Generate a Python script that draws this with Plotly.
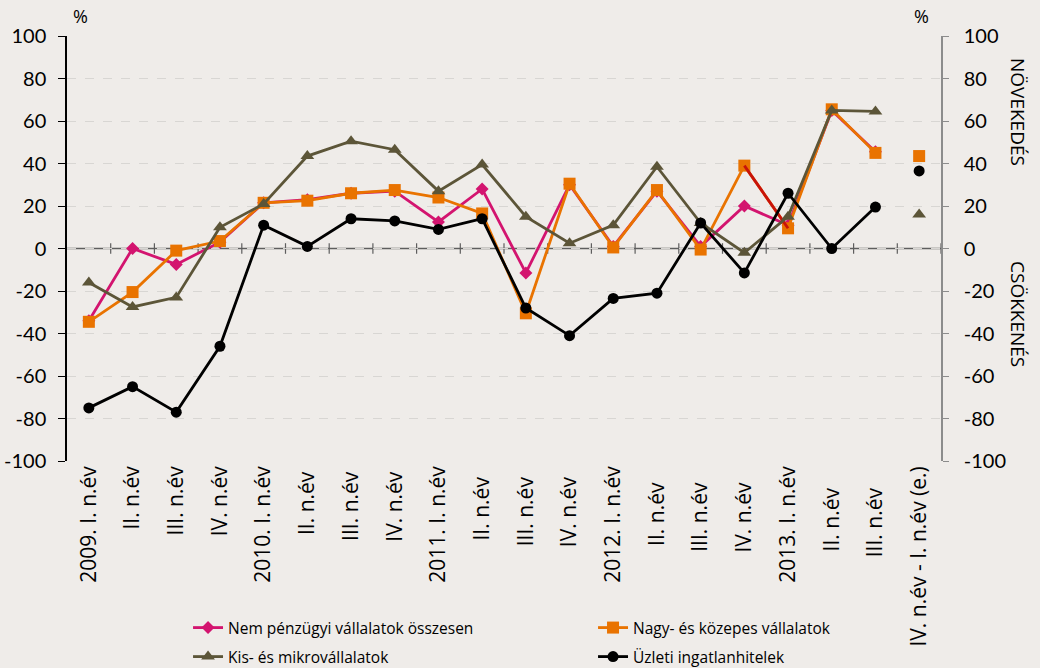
import plotly.graph_objects as go

categories = [
    "2009. I. n.év", "II. n.év", "III. n.év", "IV. n.év",
    "2010. I. n.év", "II. n.év ", "III. n.év ", "IV. n.év ",
    "2011. I. n.év", "II. n.év  ", "III. n.év  ", "IV. n.év  ",
    "2012. I. n.év", "II. n.év   ", "III. n.év   ", "IV. n.év   ",
    "2013. I. n.év", "II. n.év    ", "III. n.év    ",
    "IV. n.év - I. n.év (e.)",
]
quarters = categories[:19]
forecast_cat = categories[19:]

nem_penzugyi = [-34, 0, -7.5, 3, 21.5, 23, 26, 27, 12.5, 28, -11.5, 30, 1, 27, 1, 20, 11, 65, 45.5]
nagy_kozepes = [-34.5, -20.5, -1, 3.5, 21.5, 22.5, 26, 27.5, 24, 16.5, -30.5, 30.5, 0.5, 27.5, -0.5, 39, 9.5, 65.5, 45]
kis_mikro = [-16, -27.5, -23, 10, 21, 43.5, 50.5, 46.5, 27, 39.5, 15, 2.5, 11, 38.5, 12, -2, 15, 65, 64.5]
uzleti = [-75, -65, -77, -46, 11, 1, 14, 13, 9, 14, -28, -41, -23.5, -21, 12, -11.5, 26, 0, 19.5]

nagy_kozepes_forecast = [43.5]
kis_mikro_forecast = [16]
uzleti_forecast = [36.5]

names = ["Nem pénzügyi vállalatok összesen", "Nagy- és közepes vállalatok",
         "Kis- és mikrovállalatok", "Üzleti ingatlanhitelek"]
y_ticks = [-100, -80, -60, -40, -20, 0, 20, 40, 60, 80, 100]
y_ticktext = [str(v) for v in y_ticks]

MAGENTA = "#D3146F"
ORANGE = "#E97300"
OLIVE = "#5C5538"
BLACK = "#000000"
BG = "#EFECE9"

fig = go.Figure()
fig.add_trace(go.Scatter(x=quarters, y=nem_penzugyi, name=names[0], mode="lines+markers",
                         legend="legend", line=dict(color=MAGENTA, width=2.8),
                         marker=dict(symbol="diamond", size=10, color=MAGENTA)))
fig.add_trace(go.Scatter(x=quarters, y=nagy_kozepes, name=names[1], mode="lines+markers",
                         legend="legend", line=dict(color=ORANGE, width=2.8),
                         marker=dict(symbol="square", size=12, color=ORANGE)))
# dark red segment drawn by the original between 2012 IV and 2013 I
fig.add_trace(go.Scatter(x=quarters[15:17], y=nagy_kozepes[15:17], mode="lines",
                         line=dict(color="#C8130A", width=2.8), showlegend=False, hoverinfo="skip"))
fig.add_trace(go.Scatter(x=quarters, y=kis_mikro, name=names[2], mode="lines+markers",
                         legend="legend2", line=dict(color=OLIVE, width=2.8),
                         marker=dict(symbol="triangle-up", size=12, color=OLIVE)))
fig.add_trace(go.Scatter(x=quarters, y=uzleti, name=names[3], mode="lines+markers",
                         legend="legend2", line=dict(color=BLACK, width=2.8),
                         marker=dict(symbol="circle", size=11, color=BLACK)))
fig.add_trace(go.Scatter(x=forecast_cat, y=nagy_kozepes_forecast, mode="markers", showlegend=False,
                         marker=dict(symbol="square", size=12, color=ORANGE)))
fig.add_trace(go.Scatter(x=forecast_cat, y=uzleti_forecast, mode="markers", showlegend=False,
                         marker=dict(symbol="circle", size=11, color=BLACK)))
fig.add_trace(go.Scatter(x=forecast_cat, y=kis_mikro_forecast, mode="markers", showlegend=False,
                         marker=dict(symbol="triangle-up", size=12, color=OLIVE)))
# invisible trace on right axis
fig.add_trace(go.Scatter(x=forecast_cat, y=[None], yaxis="y2", showlegend=False, hoverinfo="skip"))

n = len(categories)
shapes = [dict(type="line", xref="x", yref="y", x0=-0.5, x1=n - 0.5, y0=0, y1=0,
               line=dict(color="#5E5E5E", width=1.5), layer="below")]
for i in range(n):
    shapes.append(dict(type="line", xref="x", yref="y", x0=i + 0.5, x1=i + 0.5, y0=-2.5, y1=2.5,
                       line=dict(color="#5E5E5E", width=1.2), layer="below"))

AX_FONT = dict(family="Lato, Open Sans, sans-serif", size=20, color="#000000")
TXT_FONT = dict(family="Open Sans, DejaVu Sans, sans-serif", size=18, color="#000000")
SIDE_FONT = dict(family="Open Sans, DejaVu Sans, sans-serif", size=19, color="#000000")
LEG_FONT = dict(family="Open Sans, DejaVu Sans, sans-serif", size=15.5, color="#000")

legend_common = dict(orientation="h", xref="container", yref="container", x=0.1808,
                     xanchor="left", yanchor="middle", entrywidth=360, entrywidthmode="pixels",
                     bgcolor="rgba(0,0,0,0)", font=LEG_FONT, itemwidth=30, tracegroupgap=0)

fig.update_layout(
    width=1040, height=668,
    paper_bgcolor=BG, plot_bgcolor=BG,
    margin=dict(l=67, r=99, t=36, b=207, autoexpand=False),
    showlegend=True,
    legend=dict(legend_common, y=1 - 628 / 668),
    legend2=dict(legend_common, y=1 - 657 / 668),
    xaxis=dict(type="category", categoryorder="array", categoryarray=categories,
               range=[-0.5, n - 0.5], showgrid=False, zeroline=False, showline=False,
               automargin=False, ticks="", tickangle=-90,
               tickfont=dict(family="Open Sans, DejaVu Sans, sans-serif", size=21, color="#000")),
    yaxis=dict(range=[-100, 100], tickvals=y_ticks, ticktext=y_ticktext, showgrid=True,
               gridcolor="#D8D6D3", griddash="dash", gridwidth=1, zeroline=False, automargin=False,
               showline=True, linecolor="#000", linewidth=1.5, ticks="outside", ticklen=7,
               tickcolor="#000", tickfont=AX_FONT, ticklabelstandoff=8),
    yaxis2=dict(range=[-100, 100], tickvals=y_ticks, ticktext=y_ticktext, overlaying="y",
                side="right", showgrid=False, zeroline=False, automargin=False, showline=True,
                linecolor="#8C8C8C", linewidth=1.5, ticks="outside", ticklen=6,
                tickcolor="#8C8C8C", tickfont=AX_FONT, ticklabelstandoff=11),
    shapes=shapes,
    annotations=[
        dict(text="%", xref="paper", yref="paper", x=(80 - 67) / 874, y=(461 - 16) / 425,
             xanchor="center", yanchor="middle", showarrow=False, font=TXT_FONT),
        dict(text="%", xref="paper", yref="paper", x=(921 - 67) / 874, y=(461 - 16) / 425,
             xanchor="center", yanchor="middle", showarrow=False, font=TXT_FONT),
        dict(text="NÖVEKEDÉS", xref="paper", yref="paper", x=(1018 - 67) / 874,
             y=(461 - 112) / 425, xanchor="center", yanchor="middle", textangle=90,
             showarrow=False, font=SIDE_FONT),
        dict(text="CSÖKKENÉS", xref="paper", yref="paper", x=(1018 - 67) / 874,
             y=(461 - 314) / 425, xanchor="center", yanchor="middle", textangle=90,
             showarrow=False, font=SIDE_FONT),
    ],
)

fig.write_html("out.html", config={"displayModeBar": False},
               post_script="document.body.style.margin='0';")
